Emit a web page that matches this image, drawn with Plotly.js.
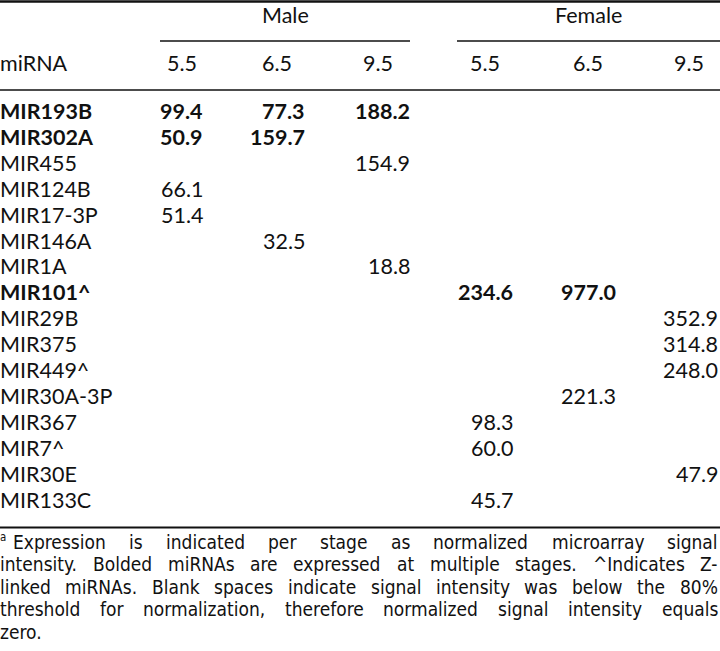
<!DOCTYPE html>
<html><head><meta charset="utf-8">
<script src="https://cdn.plot.ly/plotly-3.0.1.min.js"></script>
<style>html,body{margin:0;padding:0;background:#fff}#chart{width:720px;height:651px}</style>
</head><body><div id="chart"></div>
<script>
// ---------------- data ----------------
const mirnas = ['MIR193B','MIR302A','MIR455','MIR124B','MIR17-3P','MIR146A','MIR1A','MIR101^',
  'MIR29B','MIR375','MIR449^','MIR30A-3P','MIR367','MIR7^','MIR30E','MIR133C'];
const male55   = [99.4, 50.9, null, 66.1, 51.4, null, null, null, null, null, null, null, null, null, null, null];
const male65   = [77.3, 159.7, null, null, null, 32.5, null, null, null, null, null, null, null, null, null, null];
const male95   = [188.2, null, 154.9, null, null, null, 18.8, null, null, null, null, null, null, null, null, null];
const female55 = [null, null, null, null, null, null, null, 234.6, null, null, null, null, 98.3, 60.0, null, 45.7];
const female65 = [null, null, null, null, null, null, null, 977.0, null, null, null, 221.3, null, null, null, null];
const female95 = [null, null, null, null, null, null, null, null, 352.9, 314.8, 248.0, null, null, null, 47.9, null];
const groups = ['Male', 'Female'];
const stages = ['5.5', '6.5', '9.5'];
const rowHeader = 'miRNA';
const footnoteMark = 'a';
const footnoteLines = [
  'Expression is indicated per stage as normalized microarray signal',
  'intensity. Bolded miRNAs are expressed at multiple stages. ^Indicates Z-',
  'linked miRNAs. Blank spaces indicate signal intensity was below the 80%',
  'threshold for normalization, therefore normalized signal intensity equals',
  'zero.'
];

// ---------------- layout / styles ----------------
const W = 720, H = 651;
const FONT = 'Lato';
const FN_FONT = 'DejaVu Sans Condensed';
const FS = 21.5;
const columns = [male55, male65, male95, female55, female65, female95];
const colRight = [203, 305, 410, 513, 616, 718];
const stageCenter = [182, 277, 378, 485, 588, 689];
const groupCenter = [285, 588];
const groupLine = [[160, 410], [457, 720]];
const rowY0 = 111, rowStep = 25.9;
const headerY = 63, groupY = 15;

const ann = [];
const shapes = [];
function txt(x, y, text, anchor, opts = {}) {
  ann.push(Object.assign({
    x, y, xref: 'x', yref: 'y', text, showarrow: false, xanchor: anchor, yanchor: 'middle',
    borderpad: 0, borderwidth: 0,
    font: {family: opts.family || FONT, size: opts.size || FS, color: '#111'}
  }, opts.extra || {}));
}
function hline(x0, x1, y, w) {
  shapes.push({type: 'line', xref: 'x', yref: 'y', x0, x1, y0: y, y1: y, line: {color: '#111', width: w}});
}

// group headers
groups.forEach((g, gi) => {
  txt(groupCenter[gi], groupY, g, 'center');
  hline(groupLine[gi][0], groupLine[gi][1], 41, 1.6);
});
txt(0, headerY, rowHeader, 'left');
for (let c = 0; c < 6; c++) txt(stageCenter[c], headerY, stages[c % 3], 'center');

// rows
mirnas.forEach((m, i) => {
  const y = rowY0 + i * rowStep;
  const vals = columns.map(col => col[i]);
  const bold = vals.filter(v => v !== null).length > 1;
  const wrap = s => bold ? '<b>' + s + '</b>' : s;
  txt(0, y, wrap(m), 'left');
  vals.forEach((v, c) => {
    if (v !== null) txt(colRight[c], y, wrap(v.toFixed(1)), 'right');
  });
});

// rules
hline(0, W, 1.5, 2.5);
hline(0, W, 90, 1.6);
hline(0, W, 527.5, 2.2);

// footnote, justified
const cv = document.createElement('canvas').getContext('2d');
let FN_FS = 18;
cv.font = FN_FS + 'px "' + FN_FONT + '"';
FN_FS = Math.min(19, FN_FS * 712 / cv.measureText(footnoteLines[2]).width);
cv.font = FN_FS + 'px "' + FN_FONT + '"';
const fnY0 = 542, fnStep = 22.4;
txt(0, fnY0 - 5, footnoteMark, 'left', {family: FN_FONT, size: FN_FS * 0.6});
footnoteLines.forEach((line, li) => {
  const y = fnY0 + li * fnStep;
  const x0 = li === 0 ? 13 : 0;
  const words = line.split(' ');
  if (li === footnoteLines.length - 1) { txt(x0, y, line, 'left', {family: FN_FONT, size: FN_FS}); return; }
  const ws = words.map(w => cv.measureText(w).width);
  const total = ws.reduce((a, b) => a + b, 0);
  const gap = (718 - x0 - total) / (words.length - 1);
  let x = x0;
  words.forEach((w, k) => { txt(x, y, w, 'left', {family: FN_FONT, size: FN_FS}); x += ws[k] + gap; });
});

const layout = {
  width: W, height: H, margin: {l: 0, r: 0, t: 0, b: 0},
  paper_bgcolor: '#fff', plot_bgcolor: '#fff', showlegend: false,
  xaxis: {range: [0, W], visible: false, fixedrange: true},
  yaxis: {range: [H, 0], visible: false, fixedrange: true},
  annotations: ann, shapes
};
Plotly.newPlot('chart', [], layout, {staticPlot: true, displayModeBar: false});
</script></body></html>
